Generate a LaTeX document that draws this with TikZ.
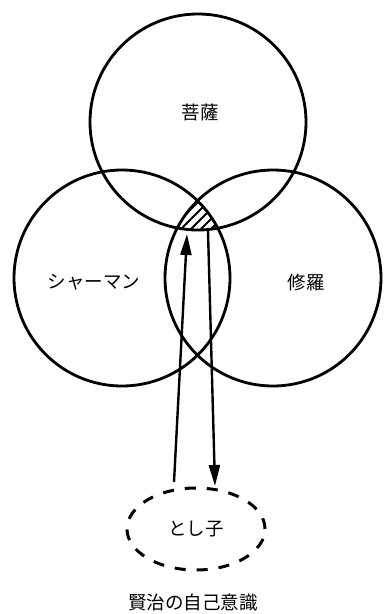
\documentclass[tikz,border=0pt]{standalone}
\usepackage{fontspec}
\newfontfamily\jpfont{Noto Sans CJK JP}
\usetikzlibrary{arrows.meta, shapes.geometric}

\begin{document}
\begin{tikzpicture}[x=1pt,y=-1pt,
  realm/.style={line width=2.8pt},
  label/.style={font=\jpfont\fontsize{18.5pt}{20pt}\selectfont, inner sep=0pt},
  hatch/.style={line width=2pt},
  link/.style={line width=2.4pt, -{Triangle[length=21pt,width=11pt]}}]
\useasboundingbox (0,0) rectangle (384,614);
\coordinate (bosatsu) at (198,122);
\coordinate (shaman) at (122,278);
\coordinate (shura) at (273,278);
\begin{scope}
\clip (bosatsu) circle (108);
\clip (shaman) circle (108);
\clip (shura) circle (108);
\foreach \k in {0,10,...,80} \draw[hatch] (148+\k,242) -- ++(44,-44);
\end{scope}
\draw[realm] (bosatsu) circle (108);
\draw[realm] (shaman) circle (108);
\draw[realm] (shura) circle (108);
\node[label] (bosatsuname) at (200,112) {菩薩};
\node[label] (shamanname) at (94,282) {シャーマン};
\node[label] (shuraname) at (306,282) {修羅};
\node[ellipse, draw, line width=3pt, dash pattern=on 11pt off 11pt,
  minimum width=138pt, minimum height=82pt, inner sep=0pt,
  label] (toshiko) at (196,529) {とし子};
\coordinate (upstart) at (174,482);
\coordinate (upend) at (187,234);
\coordinate (downstart) at (208,231);
\coordinate (downend) at (215,486);
\draw[link] (upstart) -- (upend);
\draw[link] (downstart) -- (downend);
\node[label] (jiga) at (193,602) {賢治の自己意識};
\end{tikzpicture}
\end{document}
